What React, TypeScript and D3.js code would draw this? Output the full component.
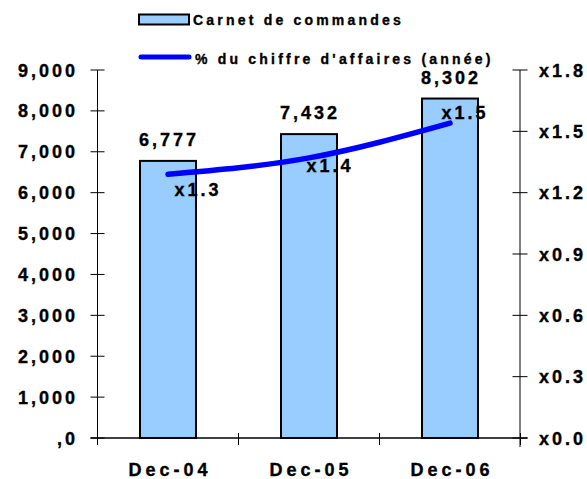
import React from "react";
import * as d3 from "d3";

const categories = ["Dec-04", "Dec-05", "Dec-06"];
const backlog = [6777, 7432, 8302];
const ratio = [1.29, 1.37, 1.54];
const leftTicks = [0, 1000, 2000, 3000, 4000, 5000, 6000, 7000, 8000, 9000];
const rightTicks = [0, 0.3, 0.6, 0.9, 1.2, 1.5, 1.8];
const legendBar = "Carnet de commandes";
const legendLine = "% du chiffre d'affaires (année)";

const W = 587;
const H = 479;
const FONT = "Arial, 'Liberation Sans', sans-serif";

export default function App() {
  const left = 97.5;
  const right = 520.5;
  const top = 70;
  const bottom = 438;

  const x = d3.scaleBand<string>().domain(categories).range([left, right]).paddingInner(0.603).paddingOuter(0.3015);
  const step = x.step();
  const yL = d3.scaleLinear().domain([0, 9000]).range([bottom, top]);
  const yR = d3.scaleLinear().domain([0, 1.8]).range([bottom, top]);

  const fmtL = (v: number) => (v === 0 ? ",0" : d3.format(",")(v));
  const fmtR = (v: number) => "x" + d3.format(".1f")(v);

  const pts: [number, number][] = categories.map((c, i) => [x(c)! + x.bandwidth() / 2, yR(ratio[i])]);
  const lineGen = d3.line().curve(d3.curveMonotoneX);
  const labelOffsets = [
    [30, 22],
    [21, 14],
    [15, -4],
  ];

  const st = (size: number, ls: number) => ({
    fontFamily: FONT,
    fontWeight: "bold" as const,
    fontSize: size + "px",
    letterSpacing: ls + "px",
    fill: "#000",
    stroke: "#000",
    strokeWidth: 0.35,
  });

  return (
    <svg width={W} height={H} style={{ position: "absolute", left: 0, top: 0, background: "#fff" }}>
      <rect width={W} height={H} fill="#fff" />
      {/* legend */}
      <rect x={139} y={14.5} width={50} height={10} fill="#99CCFF" stroke="#000" strokeWidth={2} />
      <text x={193} y={25} style={st(14, 3.2)}>
        {legendBar}
      </text>
      <line x1={141} x2={189} y1={57} y2={57} stroke="#0000FF" strokeWidth={5} strokeLinecap="round" />
      <text x={195} y={64} style={st(14, 3.2)}>
        {legendLine}
      </text>

      {/* bars */}
      {categories.map((c, i) => (
        <rect
          key={c}
          x={x(c)}
          y={yL(backlog[i])}
          width={x.bandwidth()}
          height={bottom - yL(backlog[i])}
          fill="#99CCFF"
          stroke="#000"
          strokeWidth={2}
        />
      ))}
      {categories.map((c, i) => (
        <text
          key={"v" + c}
          x={x(c)! + x.bandwidth() / 2 + 1}
          y={yL(backlog[i]) - 15}
          textAnchor="middle"
          style={st(18, 3)}
        >
          {d3.format(",")(backlog[i])}
        </text>
      ))}

      {/* left axis */}
      <line x1={left} x2={left} y1={top} y2={bottom + 7} stroke="#000" strokeWidth={1} />
      {leftTicks.map((t) => (
        <g key={"l" + t}>
          <line x1={left - 7} x2={left + 7} y1={yL(t)} y2={yL(t)} stroke="#000" strokeWidth={1} />
          <text x={78} y={yL(t) + 6.5} textAnchor="end" style={st(18, 3)}>
            {fmtL(t)}
          </text>
        </g>
      ))}

      {/* right axis */}
      <line x1={right - 0.5} x2={right - 0.5} y1={top} y2={bottom + 9} stroke="#808080" strokeWidth={2} />
      {rightTicks.map((t) => (
        <g key={"r" + t}>
          <line x1={right - 8} x2={right + 7} y1={yR(t)} y2={yR(t)} stroke="#000" strokeWidth={1} />
          <text x={539} y={yR(t) + 6.5} style={st(18, 3)}>
            {fmtR(t)}
          </text>
        </g>
      ))}

      {/* x axis */}
      <line x1={left - 7} x2={right + 7} y1={bottom} y2={bottom} stroke="#000" strokeWidth={1.5} />
      {d3.range(categories.length + 1).map((i) => (
        <line
          key={"xt" + i}
          x1={left + i * step}
          x2={left + i * step}
          y1={bottom - 5}
          y2={bottom + 7}
          stroke="#000"
          strokeWidth={1}
        />
      ))}
      {categories.map((c) => (
        <text key={"x" + c} x={x(c)! + x.bandwidth() / 2 + 2} y={476} textAnchor="middle" style={st(18, 4)}>
          {c}
        </text>
      ))}

      {/* line series */}
      <path d={lineGen(pts) || ""} fill="none" stroke="#0000FF" strokeWidth={5.5} strokeLinecap="round" strokeLinejoin="round" />
      {pts.map((p, i) => (
        <text
          key={"lbl" + i}
          x={p[0] + labelOffsets[i][0]}
          y={p[1] + labelOffsets[i][1]}
          textAnchor="middle"
          style={st(18, 3)}
        >
          {fmtR(ratio[i])}
        </text>
      ))}
    </svg>
  );
}
